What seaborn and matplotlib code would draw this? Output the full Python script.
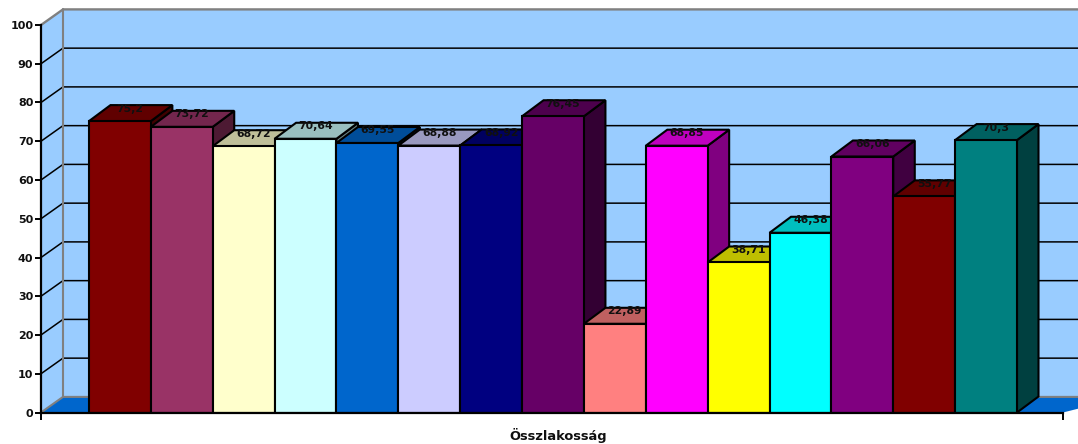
import matplotlib
matplotlib.use("Agg")
import matplotlib.pyplot as plt
from matplotlib.patches import Polygon
import pandas as pd
import seaborn as sns

groups = [f"Csoport {i}" for i in range(1, 16)]
values = [75.2, 73.72, 68.72, 70.64, 69.55, 68.88, 68.92, 76.45,
          22.89, 68.85, 38.71, 46.38, 66.06, 55.77, 70.3]
colors = ["#800000", "#993366", "#FFFFCC", "#CCFFFF", "#0066CC", "#CCCCFF", "#000080", "#660066",
          "#FF8080", "#FF00FF", "#FFFF00", "#00FFFF", "#800080", "#800000", "#008080"]
value_labels = ["75,2", "73,72", "68,72", "70,64", "69,55", "68,88", "68,92", "76,45",
                "22,89", "68,85", "38,71", "46,38", "66,06", "55,77", "70,3"]
yticks = [0, 10, 20, 30, 40, 50, 60, 70, 80, 90, 100]
xlabel = "Összlakosság"

sns.set_theme(style="white")
plt.rcParams["font.family"] = ["DejaVu Sans"]

W, H = 1078, 444
fig = plt.figure(figsize=(W / 100, H / 100), dpi=100, facecolor="white")
ax_l, ax_r, ax_b, ax_t = 41.0, 1063.0, 412.5, 25.0
ax = fig.add_axes([ax_l / W, 1 - ax_b / H, (ax_r - ax_l) / W, (ax_b - ax_t) / H])
ax.set_facecolor("none")

df = pd.DataFrame({"csoport": groups, "ertek": values})
sns.barplot(data=df, x="csoport", y="ertek", hue="csoport", palette=colors, saturation=1,
            width=1, dodge=False, legend=False, edgecolor="black", linewidth=1.5, ax=ax)
bars = list(ax.patches)

ppc = 61.87
x0 = -0.5 - 48.0 / ppc
x1 = 14.5 + 46.0 / ppc
ax.set_xlim(x0, x1)
ax.set_ylim(0, 100)
ppu = (ax_b - ax_t) / 100
wx, wy = 22 / ppc, 15.6 / ppu          # wall depth
bx, by = 21.5 / ppc, 16 / ppu          # bar depth


def shade(c, f):
    r, g, b = matplotlib.colors.to_rgb(c)
    return (r * f, g * f, b * f)


far = x1 + 1
# walls and floor
ax.add_patch(Polygon([(x0 + wx, wy), (far, wy), (far, 100 + wy), (x0 + wx, 100 + wy)],
                     fc="#99CCFF", ec="none", clip_on=False, zorder=1))
ax.add_patch(Polygon([(x0, 0), (x0 + wx, wy), (x0 + wx, 100 + wy), (x0, 100)],
                     fc="#99CCFF", ec="none", clip_on=False, zorder=1))
ax.add_patch(Polygon([(x0, 0), (x0 + wx, wy), (far, wy), (x1, 0)],
                     fc="#0066CC", ec="none", clip_on=False, zorder=1.1))
for v in yticks[1:-1]:
    ax.plot([x0, x0 + wx, far], [v, v + wy, v + wy], color="black", lw=1.1,
            clip_on=False, zorder=1.5, solid_joinstyle="miter")
ax.plot([x0, x0 + wx, far], [100, 100 + wy, 100 + wy], color="#808080", lw=1.7, clip_on=False, zorder=1.6)
ax.plot([x0, x0 + wx, far], [0, wy, wy], color="#808080", lw=1.5, clip_on=False, zorder=1.6)
ax.plot([x0 + wx, x0 + wx], [wy, 100 + wy], color="#808080", lw=1.5, clip_on=False, zorder=1.6)

# 3-D faces of each bar, painted left to right
for i, patch in enumerate(bars):
    l, w, h = patch.get_x(), patch.get_width(), patch.get_height()
    r = l + w
    z = 10 + i
    patch.set_zorder(z + 0.2)
    ax.add_patch(Polygon([(r, 0), (r + bx, by), (r + bx, h + by), (r, h)], fc=shade(colors[i], 0.5),
                         ec="black", lw=1.5, zorder=z, joinstyle="miter", clip_on=False))
    ax.add_patch(Polygon([(l, h), (l + bx, h + by), (r + bx, h + by), (r, h)], fc=shade(colors[i], 0.75),
                         ec="black", lw=1.5, zorder=z + 0.1, joinstyle="miter", clip_on=False))
    ax.text(l + w / 2 + 10 / ppc, h + 12.5 / ppu, value_labels[i], ha="center", va="center",
            fontsize=7.8, fontweight="bold", color="#101010", zorder=60, clip_on=False)

sns.despine(ax=ax)
for s in ("left", "bottom"):
    ax.spines[s].set_linewidth(1.6)
    ax.spines[s].set_color("black")
    ax.spines[s].set_zorder(50)
ax.set_yticks(yticks)
ax.set_xticks([x0, x1])
ax.set_xticklabels(["", ""])
ax.tick_params(axis="y", direction="out", length=4, width=1.4, color="black", pad=1.5, left=True)
ax.tick_params(axis="x", direction="out", length=5, width=1.4, color="black", bottom=True)
for t in ax.get_yticklabels():
    t.set_fontsize(8.0)
    t.set_fontweight("bold")
    t.set_color("#101010")
ax.set_xlabel("")
ax.set_ylabel("")
ax.text((558 - ax_l) / ppc + x0, -(435 - ax_b) / ppu, xlabel, ha="center", va="center",
        fontsize=9.4, fontweight="bold", color="#101010", clip_on=False)

fig.savefig("out.png", dpi=100, facecolor="white")
